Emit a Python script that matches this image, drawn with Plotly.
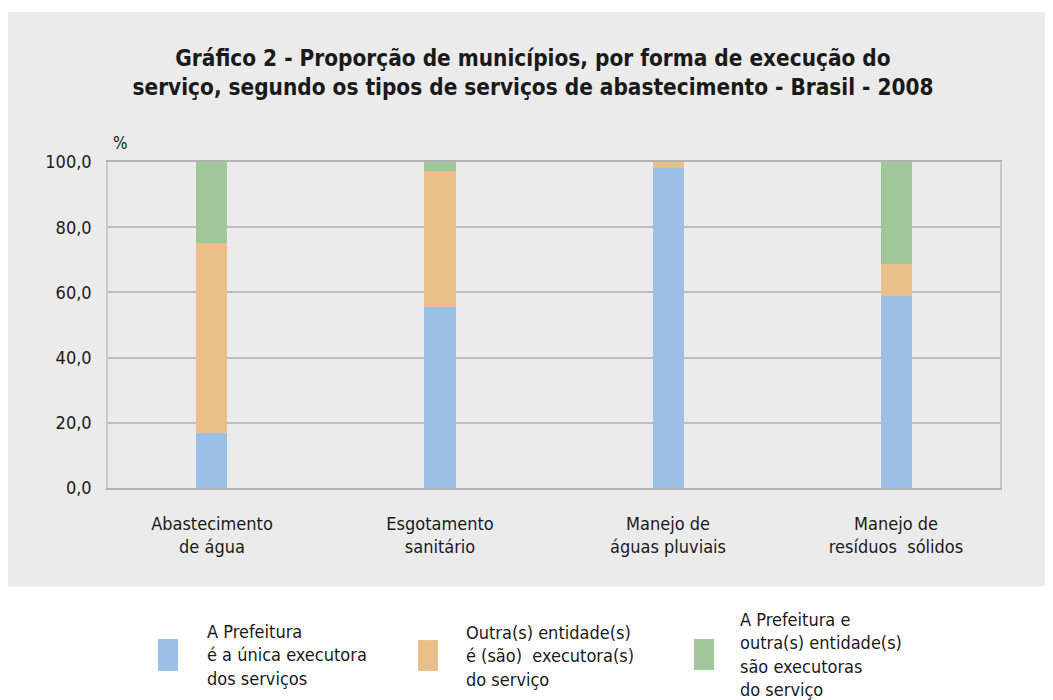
import plotly.graph_objects as go

categorias = ["Abastecimento<br>de água", "Esgotamento<br>sanitário",
              "Manejo de<br>águas pluviais", "Manejo de<br>resíduos  sólidos"]

prefeitura_unica = [17.0, 55.5, 98.3, 59.0]
outras_entidades = [58.1, 41.6, 1.7, 9.7]
prefeitura_e_outras = [24.9, 2.9, 0.0, 31.3]

series = [
    ("A Prefeitura<br>é a única executora<br>dos serviços", prefeitura_unica, "#9bbfe5"),
    ("Outra(s) entidade(s)<br>é (são)  executora(s)<br>do serviço", outras_entidades, "#e9c089"),
    ("A Prefeitura e<br>outra(s) entidade(s)<br>são executoras<br>do serviço", prefeitura_e_outras, "#a1c699"),
]

yticks = [0, 20, 40, 60, 80, 100]
yticklabels = ["0,0", "20,0", "40,0", "60,0", "80,0", "100,0"]

FONT = "DejaVu Sans Condensed, sans-serif"
TXT = "#1a1a1a"

# page has an 8px body margin; figure coordinates = page coordinates - 8
OFF = 8
FW, FH = 1053 - OFF, 700 - OFF

fig = go.Figure()
for nome, valores, cor in series:
    fig.add_trace(go.Bar(x=list(range(len(categorias))), y=valores, name=nome,
                         marker=dict(color=cor, line=dict(width=0)),
                         width=0.136, showlegend=False))

# plot area in page pixels: x 108..1000, y 161.5..488.5
L, R, T, B = 108 - OFF, 1000 - OFF, 161.5 - OFF, 488.5 - OFF
W, H = R - L, B - T


def px_x(p):
    return (p - OFF - L) / W


def px_y(p):
    return (B - (p - OFF)) / H


# gray panel behind the chart
fig.add_shape(type="rect", xref="paper", yref="paper",
              x0=px_x(7), x1=px_x(1070), y0=px_y(587), y1=px_y(11),
              fillcolor="#ebebeb", line=dict(width=0), layer="below")

# legend with large swatches
legenda = [
    (158, 640, 672, 205, 656),
    (418, 641, 672, 464, 657),
    (694, 640, 671, 738, 656),
]
for (nome, _, cor), (sx, sy0, sy1, tx, ty) in zip(series, legenda):
    fig.add_shape(type="rect", xref="paper", yref="paper",
                  x0=px_x(sx), x1=px_x(sx + 20), y0=px_y(sy1), y1=px_y(sy0),
                  fillcolor=cor, line=dict(width=0))
    fig.add_annotation(xref="paper", yref="paper", x=px_x(tx), y=px_y(ty),
                       text=nome, showarrow=False, xanchor="left", yanchor="middle",
                       align="left", font=dict(size=18, color=TXT, family=FONT))

fig.add_annotation(xref="paper", yref="paper", x=px_x(111), y=px_y(142),
                   text="%", showarrow=False, xanchor="left", yanchor="middle",
                   font=dict(size=17, color=TXT, family=FONT))

fig.update_layout(
    width=FW, height=FH,
    margin=dict(l=L, r=FW - R, t=T, b=FH - B, pad=0),
    paper_bgcolor="white", plot_bgcolor="white",
    barmode="stack", bargap=0,
    title=dict(text="Gráfico 2 - Proporção de municípios, por forma de execução do<br>"
                    "serviço, segundo os tipos de serviços de abastecimento - Brasil - 2008",
               x=px_x(533), xref="paper", xanchor="center",
               y=1 - (66 - OFF) / FH, yanchor="middle",
               font=dict(size=22.4, color=TXT, family=FONT, weight="bold")),
    font=dict(family=FONT, size=18, color=TXT),
    xaxis=dict(tickmode="array", tickvals=list(range(len(categorias))), ticktext=categorias,
               range=[-0.456, 3.456], showgrid=False, showline=True, linecolor="#b3b3b3",
               linewidth=2, ticks="", tickfont=dict(size=18, family=FONT, color=TXT),
               ticklabelstandoff=18, mirror=True),
    yaxis=dict(range=[0, 100], tickvals=yticks, ticktext=yticklabels,
               showgrid=True, gridcolor="#bdbdbd", gridwidth=1.5, showline=True,
               linecolor="#c8c8c8", linewidth=1.5, zeroline=False, ticks="",
               ticklabelstandoff=11, mirror=True,
               tickfont=dict(size=18, family=FONT, color=TXT)),
)

fig.write_html("out.html")
